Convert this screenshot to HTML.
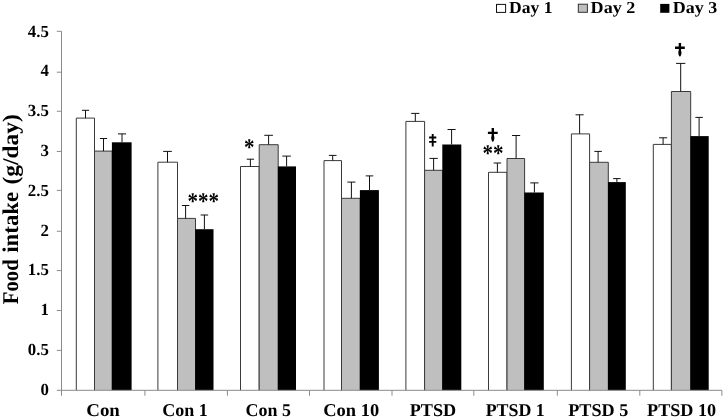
<!DOCTYPE html>
<html><head><meta charset="utf-8"><title>Food intake chart</title>
<style>
html,body{margin:0;padding:0;background:#fff;}
body{width:724px;height:418px;overflow:hidden;}
svg{display:block;will-change:transform;}
text{text-rendering:geometricPrecision;font-family:"Liberation Serif",serif;font-weight:bold;fill:#000;}
.yl{font-size:17px;}
.xl{font-size:18px;}
.yt{font-size:22.5px;}
.lg{font-size:16.8px;}
.an{font-size:21px;}
</style></head><body>
<svg width="724" height="418" viewBox="0 0 724 418">
<rect width="724" height="418" fill="#fff"/>
<path d="M76.30 390.30V118.10H94.50V390.30" fill="#fff" stroke="#3a3a3a" stroke-width="1"/>
<path d="M94.50 390.30V151.10H112.20V390.30" fill="#bfbfbf" stroke="#3a3a3a" stroke-width="1"/>
<rect x="111.90" y="142.30" width="19.70" height="248.00" fill="#000"/>
<path d="M85.50 118.10V110.30M81.90 110.30H89.10" stroke="#111" stroke-width="1" fill="none"/>
<path d="M103.50 151.10V138.50M99.90 138.50H107.10" stroke="#111" stroke-width="1" fill="none"/>
<path d="M122.00 142.30V133.90M117.95 133.90H126.05" stroke="#111" stroke-width="1" fill="none"/>
<path d="M157.90 390.30V162.20H177.50V390.30" fill="#fff" stroke="#3a3a3a" stroke-width="1"/>
<path d="M177.50 390.30V218.40H195.50V390.30" fill="#bfbfbf" stroke="#3a3a3a" stroke-width="1"/>
<rect x="195.20" y="229.20" width="18.30" height="161.10" fill="#000"/>
<path d="M167.50 162.20V151.40M163.15 151.40H171.85" stroke="#111" stroke-width="1" fill="none"/>
<path d="M185.60 218.40V205.50M181.85 205.50H189.35" stroke="#111" stroke-width="1" fill="none"/>
<path d="M204.40 229.20V215.00M200.65 215.00H208.15" stroke="#111" stroke-width="1" fill="none"/>
<path d="M240.50 390.30V166.50H259.20V390.30" fill="#fff" stroke="#3a3a3a" stroke-width="1"/>
<path d="M259.20 390.30V144.70H278.20V390.30" fill="#bfbfbf" stroke="#3a3a3a" stroke-width="1"/>
<rect x="277.90" y="166.40" width="18.10" height="223.90" fill="#000"/>
<path d="M250.40 166.50V159.20M246.75 159.20H254.05" stroke="#111" stroke-width="1" fill="none"/>
<path d="M268.60 144.70V135.30M264.25 135.30H272.95" stroke="#111" stroke-width="1" fill="none"/>
<path d="M286.60 166.40V156.10M282.35 156.10H290.85" stroke="#111" stroke-width="1" fill="none"/>
<path d="M324.00 390.30V160.60H341.50V390.30" fill="#fff" stroke="#3a3a3a" stroke-width="1"/>
<path d="M341.50 390.30V198.30H360.20V390.30" fill="#bfbfbf" stroke="#3a3a3a" stroke-width="1"/>
<rect x="359.90" y="190.10" width="19.00" height="200.20" fill="#000"/>
<path d="M332.70 160.60V155.40M328.90 155.40H336.50" stroke="#111" stroke-width="1" fill="none"/>
<path d="M351.40 198.30V182.10M347.35 182.10H355.45" stroke="#111" stroke-width="1" fill="none"/>
<path d="M369.50 190.10V175.90M365.75 175.90H373.25" stroke="#111" stroke-width="1" fill="none"/>
<path d="M405.90 390.30V121.40H424.60V390.30" fill="#fff" stroke="#3a3a3a" stroke-width="1"/>
<path d="M424.60 390.30V170.30H442.60V390.30" fill="#bfbfbf" stroke="#3a3a3a" stroke-width="1"/>
<rect x="442.30" y="144.50" width="19.00" height="245.80" fill="#000"/>
<path d="M415.30 121.40V113.40M411.20 113.40H419.40" stroke="#111" stroke-width="1" fill="none"/>
<path d="M433.60 170.30V158.40M429.45 158.40H437.75" stroke="#111" stroke-width="1" fill="none"/>
<path d="M451.60 144.50V129.50M447.55 129.50H455.65" stroke="#111" stroke-width="1" fill="none"/>
<path d="M488.50 390.30V172.30H507.00V390.30" fill="#fff" stroke="#3a3a3a" stroke-width="1"/>
<path d="M507.00 390.30V158.50H524.60V390.30" fill="#bfbfbf" stroke="#3a3a3a" stroke-width="1"/>
<rect x="524.30" y="192.50" width="19.50" height="197.80" fill="#000"/>
<path d="M497.40 172.30V163.00M493.65 163.00H501.15" stroke="#111" stroke-width="1" fill="none"/>
<path d="M516.10 158.50V135.50M512.05 135.50H520.15" stroke="#111" stroke-width="1" fill="none"/>
<path d="M534.40 192.50V182.90M530.25 182.90H538.55" stroke="#111" stroke-width="1" fill="none"/>
<path d="M571.40 390.30V133.90H589.60V390.30" fill="#fff" stroke="#3a3a3a" stroke-width="1"/>
<path d="M589.60 390.30V162.30H608.30V390.30" fill="#bfbfbf" stroke="#3a3a3a" stroke-width="1"/>
<rect x="608.00" y="182.10" width="17.80" height="208.20" fill="#000"/>
<path d="M579.60 133.90V114.80M575.55 114.80H583.65" stroke="#111" stroke-width="1" fill="none"/>
<path d="M598.10 162.30V151.40M594.35 151.40H601.85" stroke="#111" stroke-width="1" fill="none"/>
<path d="M616.90 182.10V178.60M613.15 178.60H620.65" stroke="#111" stroke-width="1" fill="none"/>
<path d="M653.30 390.30V144.40H671.40V390.30" fill="#fff" stroke="#3a3a3a" stroke-width="1"/>
<path d="M671.40 390.30V91.50H690.70V390.30" fill="#bfbfbf" stroke="#3a3a3a" stroke-width="1"/>
<rect x="690.40" y="136.10" width="18.30" height="254.20" fill="#000"/>
<path d="M663.10 144.40V137.80M659.05 137.80H667.15" stroke="#111" stroke-width="1" fill="none"/>
<path d="M680.70 91.50V63.40M676.05 63.40H685.35" stroke="#111" stroke-width="1" fill="none"/>
<path d="M699.10 136.10V117.40M695.35 117.40H702.85" stroke="#111" stroke-width="1" fill="none"/>
<path d="M61.50 31.30V395.70" stroke="#8a8a8a" stroke-width="1" fill="none"/>
<path d="M56.80 390.30H721.90" stroke="#8a8a8a" stroke-width="1" fill="none"/>
<text transform="translate(48.9,394.75) scale(0.99,1)" text-anchor="end" class="yl">0</text>
<path d="M56.80 350.40H61.50" stroke="#8a8a8a" stroke-width="1"/>
<text transform="translate(48.9,354.95) scale(0.99,1)" text-anchor="end" class="yl">0.5</text>
<path d="M56.80 310.50H61.50" stroke="#8a8a8a" stroke-width="1"/>
<text transform="translate(48.9,315.15) scale(0.99,1)" text-anchor="end" class="yl">1</text>
<path d="M56.80 270.60H61.50" stroke="#8a8a8a" stroke-width="1"/>
<text transform="translate(48.9,275.35) scale(0.99,1)" text-anchor="end" class="yl">1.5</text>
<path d="M56.80 231.25H61.50" stroke="#8a8a8a" stroke-width="1"/>
<text transform="translate(48.9,235.55) scale(0.99,1)" text-anchor="end" class="yl">2</text>
<path d="M56.80 190.40H61.50" stroke="#8a8a8a" stroke-width="1"/>
<text transform="translate(48.9,195.75) scale(0.99,1)" text-anchor="end" class="yl">2.5</text>
<path d="M56.80 151.45H61.50" stroke="#8a8a8a" stroke-width="1"/>
<text transform="translate(48.9,155.95) scale(0.99,1)" text-anchor="end" class="yl">3</text>
<path d="M56.80 111.25H61.50" stroke="#8a8a8a" stroke-width="1"/>
<text transform="translate(48.9,116.15) scale(0.99,1)" text-anchor="end" class="yl">3.5</text>
<path d="M56.80 72.20H61.50" stroke="#8a8a8a" stroke-width="1"/>
<text transform="translate(48.9,76.35) scale(0.99,1)" text-anchor="end" class="yl">4</text>
<path d="M56.80 31.30H61.50" stroke="#8a8a8a" stroke-width="1"/>
<text transform="translate(48.9,36.55) scale(0.99,1)" text-anchor="end" class="yl">4.5</text>
<path d="M144.90 390.30V395.70" stroke="#8a8a8a" stroke-width="1"/>
<path d="M227.40 390.30V395.70" stroke="#8a8a8a" stroke-width="1"/>
<path d="M309.50 390.30V395.70" stroke="#8a8a8a" stroke-width="1"/>
<path d="M392.00 390.30V395.70" stroke="#8a8a8a" stroke-width="1"/>
<path d="M473.80 390.30V395.70" stroke="#8a8a8a" stroke-width="1"/>
<path d="M557.30 390.30V395.70" stroke="#8a8a8a" stroke-width="1"/>
<path d="M639.80 390.30V395.70" stroke="#8a8a8a" stroke-width="1"/>
<path d="M721.90 390.30V395.70" stroke="#8a8a8a" stroke-width="1"/>
<text transform="translate(103.05,416.0) scale(1.050,1)" text-anchor="middle" class="xl">Con</text>
<text transform="translate(185.00,416.0) scale(1.001,1)" text-anchor="middle" class="xl">Con 1</text>
<text transform="translate(268.30,416.0) scale(0.997,1)" text-anchor="middle" class="xl">Con 5</text>
<text transform="translate(351.20,416.0) scale(1.025,1)" text-anchor="middle" class="xl">Con 10</text>
<text transform="translate(432.90,416.0) scale(1.011,1)" text-anchor="middle" class="xl">PTSD</text>
<text transform="translate(515.20,416.0) scale(0.992,1)" text-anchor="middle" class="xl">PTSD 1</text>
<text transform="translate(598.30,416.0) scale(1.010,1)" text-anchor="middle" class="xl">PTSD 5</text>
<text transform="translate(681.60,416.0) scale(1.009,1)" text-anchor="middle" class="xl">PTSD 10</text>
<text transform="translate(17.7,304.15) rotate(-90) scale(0.9190,1)" class="yt">Food</text>
<text transform="translate(17.7,252.80) rotate(-90) scale(1.0170,1)" class="yt">intake</text>
<text transform="translate(17.7,184.45) rotate(-90) scale(1.0415,1)" class="yt">(g/day)</text>
<rect x="496.5" y="4.4" width="9.1" height="8" fill="#fff" stroke="#111" stroke-width="1"/>
<rect x="578.3" y="4.2" width="9.1" height="8.1" fill="#bfbfbf" stroke="#333" stroke-width="1"/>
<rect x="660.2" y="3.9" width="9.2" height="8.9" fill="#000"/>
<text transform="translate(509.10,12.8) scale(1.048,1)" class="lg">Day 1</text>
<text transform="translate(590.60,12.8) scale(1.078,1)" class="lg">Day 2</text>
<text transform="translate(672.80,12.8) scale(1.072,1)" class="lg">Day 3</text>
<text transform="translate(203.20,208.90) scale(1,1.14)" text-anchor="middle" class="an">***</text>
<text transform="translate(249.20,154.50) scale(1,1.14)" text-anchor="middle" class="an">*</text>
<text transform="translate(492.90,160.80) scale(1,1.14)" text-anchor="middle" class="an">**</text>
<path transform="translate(492.80,128.10)" d="M-1.2 0H1.2V3.7H4.9V6.0H1.05C1.2 8 1.65 9 1.6 10.2C1.5 11.7 0.9 13 0.55 13.4Q0 13.9 -0.55 13.4C-0.9 13 -1.5 11.7 -1.6 10.2C-1.65 9 -1.2 8 -1.05 6.0H-4.9V3.7H-1.2Z" fill="#000"/>
<path transform="translate(432.70,134.00)" d="M-0.95 0H0.95V2.6H3.6V4.4H0.95V7.0H3.6V8.8H0.95V12.6H-0.95V8.8H-3.6V7.0H-0.95V4.4H-3.6V2.6H-0.95Z" fill="#000"/>
<path transform="translate(679.90,42.90)" d="M-1.2 0H1.2V3.7H4.9V6.0H1.05C1.2 8 1.65 9 1.6 10.2C1.5 11.7 0.9 13 0.55 13.4Q0 13.9 -0.55 13.4C-0.9 13 -1.5 11.7 -1.6 10.2C-1.65 9 -1.2 8 -1.05 6.0H-4.9V3.7H-1.2Z" fill="#000"/>
</svg>
</body></html>
